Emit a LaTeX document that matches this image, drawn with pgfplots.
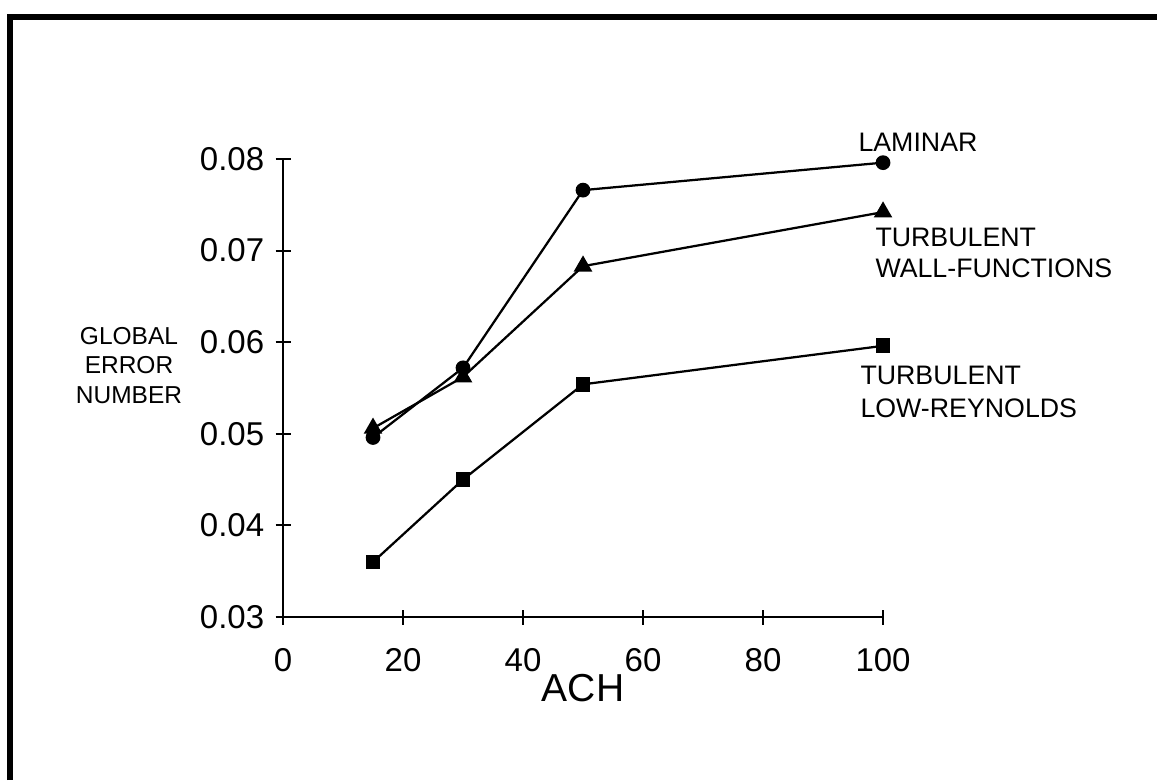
\documentclass[border=0pt]{standalone}
\usepackage{fontspec}
\setmainfont{Liberation Sans}
\usepackage{pgfplots}
\pgfplotsset{compat=1.18}

\begin{document}
\begin{tikzpicture}[x=0.4pt,y=0.4pt]
  % page = 1157 x 780 px of the scan, 1 px = 0.4pt
  \path[use as bounding box] (0,0) rectangle (1157,780);
  % scanned frame: only the left and top edges show
  \draw[line width=2.4pt] (10,0) -- (10,763) -- (1157,763);

  \begin{axis}[
    at={(113.2pt,65.2pt)}, anchor=south west,
    scale only axis, width=240pt, height=183.2pt,
    xmin=0, xmax=100, ymin=0.03, ymax=0.08,
    axis lines=left, axis line style={-, line width=0.8pt},
    xtick={0,20,...,100}, ytick={0.03,0.04,...,0.08},
    scaled y ticks=false,
    tick align=center, major tick length=6pt,
    tick style={line width=0.8pt, black},
    /pgf/number format/assume math mode=true,
    yticklabel style={/pgf/number format/fixed, /pgf/number format/precision=2,
                      /pgf/number format/fixed zerofill},
    ticklabel style={font=\fontsize{13.2}{15}\selectfont},
    xticklabel style={yshift=-6pt},
    yticklabel style={xshift=-1pt},
    xlabel={ACH}, xlabel style={font=\fontsize{15.6}{18}\selectfont, yshift=6pt},
    clip=false,
    every axis plot/.append style={line width=0.9pt, black},
  ]
    % LAMINAR
    \addplot[mark=*, mark size=2.5pt]
      coordinates {(15,0.0496)(30,0.0572)(50,0.0766)(100,0.0796)};
    % TURBULENT WALL-FUNCTIONS
    \addplot[mark=triangle*, mark size=3.4pt]
      coordinates {(15,0.0506)(30,0.0562)(50,0.0683)(100,0.0742)};
    % TURBULENT LOW-REYNOLDS
    \addplot[mark=square*, mark size=2.5pt]
      coordinates {(15,0.0360)(30,0.0450)(50,0.0554)(100,0.0596)};
  \end{axis}

  % y label, three centred lines
  \begin{scope}[every node/.style={font=\fontsize{9.8}{12}\selectfont, anchor=base, inner sep=0pt}]
    \node at (129,435) {GLOBAL};
    \node at (129,406) {ERROR};
    \node at (129,377) {NUMBER};
  \end{scope}

  % series labels
  \begin{scope}[every node/.style={font=\fontsize{10.7}{13}\selectfont, anchor=base west, inner sep=0pt}]
    \node at (858,628) {LAMINAR};
    \node at (875,533) {TURBULENT};
    \node at (875,502) {WALL-FUNCTIONS};
    \node at (860,395) {TURBULENT};
    \node at (860,362) {LOW-REYNOLDS};
  \end{scope}
\end{tikzpicture}
\end{document}
